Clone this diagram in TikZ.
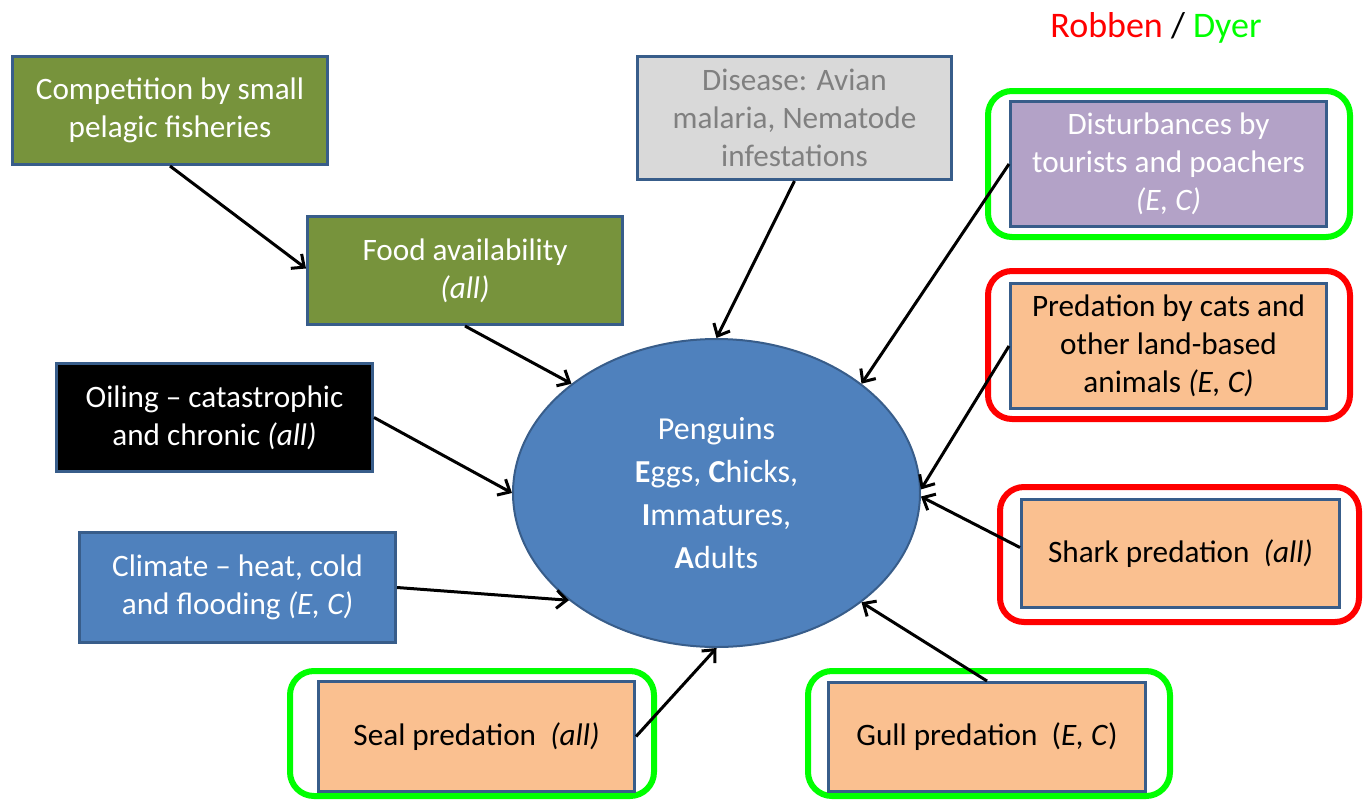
\documentclass[tikz,border=0pt]{standalone}
\usepackage{fontspec}
\setmainfont{Carlito}
\usetikzlibrary{shapes.geometric,arrows.meta}
\definecolor{bord}{HTML}{385D8A}
\definecolor{olive}{HTML}{77933C}
\definecolor{greyfill}{HTML}{D9D9D9}
\definecolor{greytext}{HTML}{808080}
\definecolor{lilac}{HTML}{B3A2C7}
\definecolor{peach}{HTML}{FAC090}
\definecolor{steel}{HTML}{4F81BD}
\definecolor{limeg}{HTML}{00FF00}
\definecolor{redf}{HTML}{FF0000}
\begin{document}
\begin{tikzpicture}[x=0.5pt,y=-0.5pt,
  box/.style={draw=bord, line width=1.5pt, align=center, inner sep=0pt,
    font=\fontsize{15.6}{19}\selectfont},
  frame/.style={line width=3pt, rounded corners=12pt, inner sep=0pt},
  arr/.style={line width=1.5pt, draw=black,
    -{Straight Barb[length=5pt,width=9pt,line width=1.5pt]}},
  ell/.style={ellipse, draw=bord, line width=1pt, fill=steel, text=white,
    align=center, inner sep=0pt, font=\fontsize{16}{21.5}\selectfont}]
\useasboundingbox (0,0) rectangle (1367,799);
% highlight frames
\node[frame, draw=limeg, minimum width=181pt, minimum height=73pt] (fdist) at (1169,164) {};
\node[frame, draw=redf, minimum width=181pt, minimum height=74pt] (fpred) at (1169,345) {};
\node[frame, draw=redf, minimum width=179.5pt, minimum height=67.5pt] (fshark) at (1179.5,554.5) {};
\node[frame, draw=limeg, minimum width=182pt, minimum height=62.5pt] (fseal) at (472,733.5) {};
\node[frame, draw=limeg, minimum width=181pt, minimum height=62.5pt] (fgull) at (989,733.5) {};
% legend
\node[font=\fontsize{18}{21}\selectfont] (legend) at (1156,28) {\textcolor{redf}{Robben} / \textcolor{limeg}{Dyer}};
% boxes
\node[box, fill=olive, text=white, minimum width=157.5pt, minimum height=54pt] (comp) at (170,110.5) {Competition by small\\pelagic fisheries};
\node[box, fill=olive, text=white, minimum width=157.5pt, minimum height=54pt] (food) at (465,270.5) {Food availability\\\textit{(all)}};
\node[box, fill=greyfill, text=greytext, minimum width=157pt, minimum height=61.5pt] (dis) at (794.5,118) {Disease: Avian\\malaria, Nematode\\infestations};
\node[box, fill=lilac, text=white, minimum width=158pt, minimum height=62.5pt] (dist) at (1168.5,164) {Disturbances by\\tourists and poachers\\\textit{(E, C)}};
\node[box, fill=peach, text=black, minimum width=158pt, minimum height=62.5pt] (pred) at (1168.5,346) {Predation by cats and\\other land-based\\animals \textit{(E, C)}};
\node[box, fill=peach, text=black, minimum width=159pt, minimum height=54pt] (shark) at (1180.5,553.5) {Shark predation\ \ \textit{(all)}};
\node[box, fill=black, text=white, minimum width=158pt, minimum height=54pt] (oil) at (214.5,417.5) {Oiling -- catastrophic\\and chronic \textit{(all)}};
\node[box, fill=steel, text=white, minimum width=158pt, minimum height=55pt] (clim) at (237.5,587.5) {Climate -- heat, cold\\and flooding \textit{(E, C)}};
\node[box, fill=peach, text=black, minimum width=158pt, minimum height=55pt] (seal) at (476.5,736.5) {Seal predation\ \ \textit{(all)}};
\node[box, fill=peach, text=black, minimum width=158.5pt, minimum height=54.5pt] (gull) at (987,737) {Gull predation\ \ (\textit{E, C})};
% centre
\node[ell, minimum width=203.5pt, minimum height=154pt] (peng) at (716.5,493) {Penguins\\\textbf{E}ggs, \textbf{C}hicks,\\\textbf{I}mmatures,\\\textbf{A}dults};
% connectors
\draw[arr] (comp.south) -- ([yshift=1pt]food.west);
\draw[arr] (food.south) -- (peng.143.4);
\draw[arr] (dis.south) -- (peng.90);
\draw[arr] (dist.west) -- (peng.37);
\draw[arr] (pred.west) -- (peng.1.7);
\draw[arr] ([yshift=3pt]shark.west) -- (peng.-1.1);
\draw[arr] (gull.north) -- (peng.-37.2);
\draw[arr] (seal.east) -- (peng.-90);
\draw[arr] (clim.east) -- (peng.216.2);
\draw[arr] (oil.east) -- (peng.180);
\end{tikzpicture}
\end{document}
